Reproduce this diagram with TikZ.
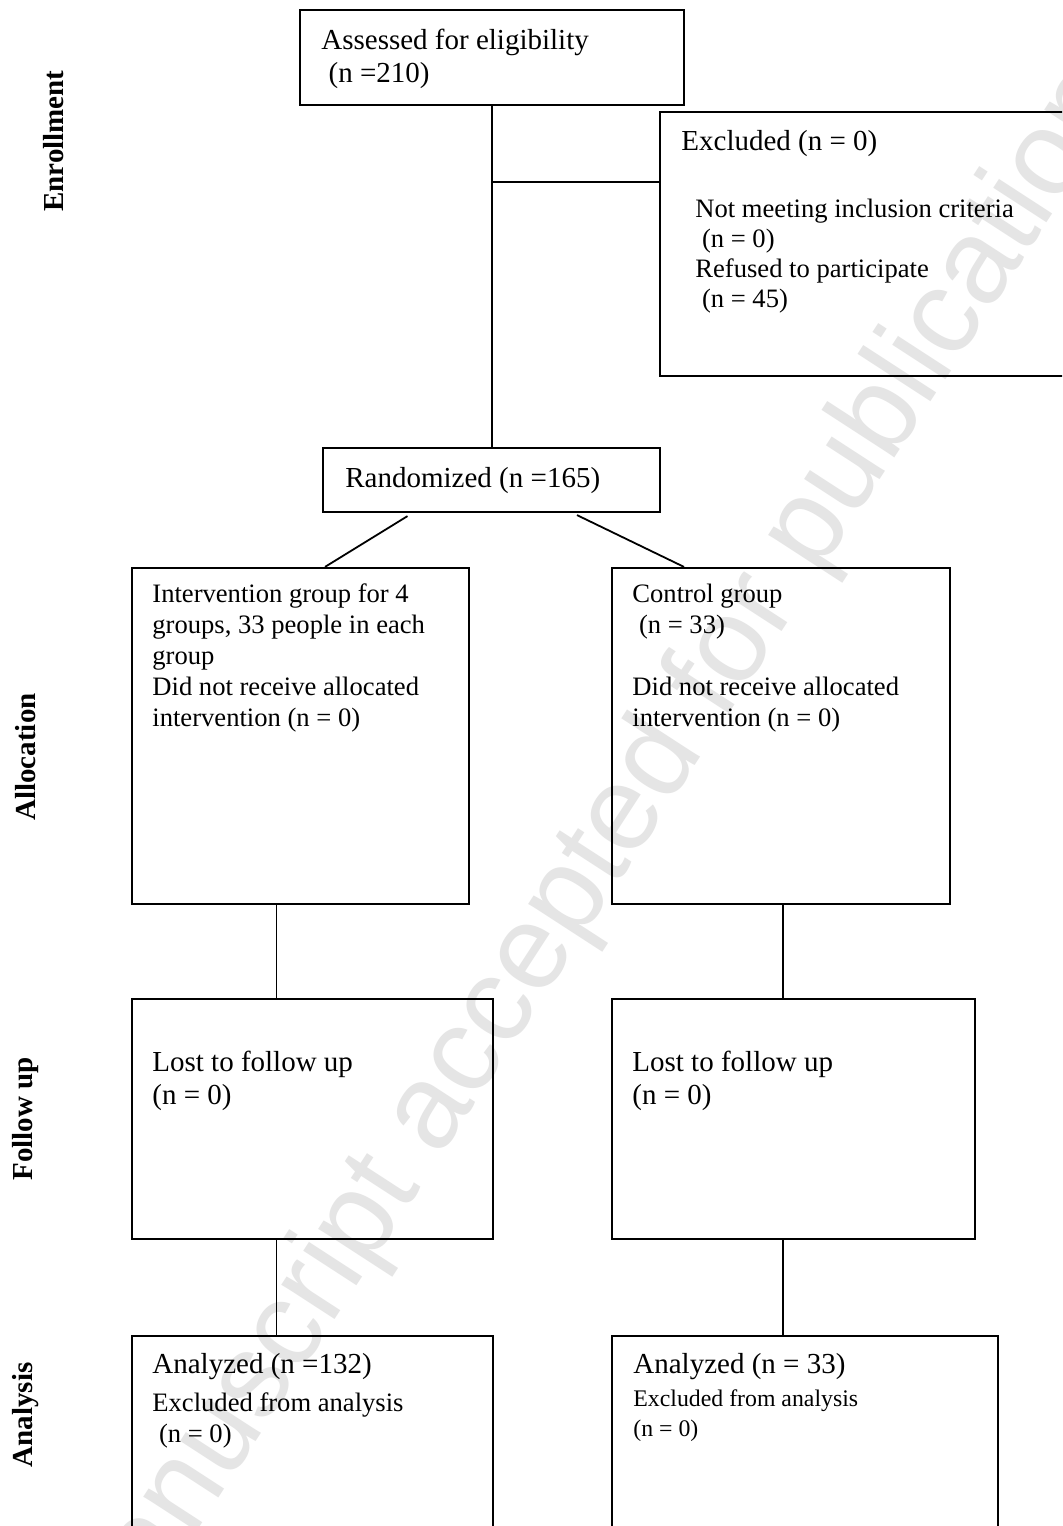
\documentclass[tikz,border=0pt]{standalone}
\usepackage{fontspec}
\setmainfont{Liberation Serif}
\newfontfamily\wmfont{Liberation Sans}
\usetikzlibrary{fit}
\tikzset{
  box/.style={draw, line width=1.1pt, inner sep=0pt},
  conn/.style={line width=0.9pt},
  txt/.style={inner sep=0pt, anchor=base west, align=left},
  fbig/.style={font=\fontsize{14.5}{16.5}\selectfont},
  fmid/.style={font=\fontsize{13.3}{15.4}\selectfont},
  fsmall/.style={font=\fontsize{11.9}{15}\selectfont},
  side/.style={inner sep=0pt, rotate=90, font=\fontsize{14.5}{16.5}\selectfont\bfseries},
  wm/.style={inner sep=0pt, rotate=57, text=black!10, font=\wmfont\fontsize{60}{62}\selectfont}
}
\begin{document}
\begin{tikzpicture}[x=0.5pt,y=-0.5pt]
\useasboundingbox (0,0) rectangle (1062,1526);
\clip (0,0) rectangle (1062,1526);
\fill[white] (0,0) rectangle (1062,1526);
% watermark
\node[wm] (wmark) at (590,870) {manuscript accepted for publication};
% boxes
\node[box, fit={(300,10) (684,105)}] (assess) {};
\node[box, fit={(660,112) (1085,376)}] (excl) {};
\node[box, fit={(323,448) (660,512)}] (rand) {};
\node[box, fit={(132,568) (469,904)}] (interv) {};
\node[box, fit={(612,568) (950,904)}] (ctrl) {};
\node[box, fit={(132,999) (493,1239)}] (fuL) {};
\node[box, fit={(612,999) (975,1239)}] (fuR) {};
\node[box, fit={(132,1336) (493,1545)}] (anL) {};
\node[box, fit={(612,1336) (998,1545)}] (anR) {};
% texts (multi-line nodes: base = last line's baseline)
\node[txt, fbig] (assessT) at (321,82) {Assessed for eligibility\\\ (n =210)};
\node[txt, fbig] (exclT) at (681,150) {Excluded (n = 0)};
\node[txt, font=\fontsize{13.3}{15}\selectfont] (exclB) at (695,307) {Not meeting inclusion criteria\\\ (n = 0)\\Refused to participate\\\ (n = 45)};
\node[txt, fbig] (randT) at (345,487) {Randomized (n =165)};
\node[txt, fmid] (intervT) at (152,726) {Intervention group for 4\\groups, 33 people in each\\group\\Did not receive allocated\\intervention (n = 0)};
\node[txt, fmid] (ctrlT) at (632,726) {Control group\\\ (n = 33)\\[15.4pt]Did not receive allocated\\intervention (n = 0)};
\node[txt, fbig] (fuLT) at (152,1104) {Lost to follow up\\(n = 0)};
\node[txt, fbig] (fuRT) at (632,1104) {Lost to follow up\\(n = 0)};
\node[txt, fbig] (anLT) at (152,1373) {Analyzed (n =132)};
\node[txt, fmid] (anLB) at (152,1442) {Excluded from analysis\\\ (n = 0)};
\node[txt, fbig] (anRT) at (633,1373) {Analyzed (n = 33)};
\node[txt, fsmall] (anRB) at (633,1436) {Excluded from analysis\\(n = 0)};
% side labels
\node[side] (lEnr) at (54,141) {Enrollment};
\node[side] (lAll) at (26,757) {Allocation};
\node[side] (lFol) at (26,1119) {Follow up};
\node[side] (lAna) at (26,1415) {Analysis};
% connectors
\path (assess.south) ++(0,76) coordinate (br);
\path ([shift={(-24,0)}]interv.south) coordinate (v1);
\path ([shift={(2,0)}]ctrl.south) coordinate (v2);
\draw[conn] (assess.south) -- (assess.south |- rand.north);
\draw[conn] (br) -- (br -| excl.west);
\draw[conn] ([shift={(-84,3)}]rand.south) -- ([shift={(24.5,0)}]interv.north);
\draw[conn] ([shift={(85.5,2)}]rand.south) -- ([shift={(-97,0)}]ctrl.north);
\draw[conn] (v1) -- (v1 |- fuL.north);
\draw[conn] (v2) -- (v2 |- fuR.north);
\draw[conn] (v1 |- fuL.south) -- (v1 |- anL.north);
\draw[conn] (v2 |- fuR.south) -- (v2 |- anR.north);
\end{tikzpicture}
\end{document}
